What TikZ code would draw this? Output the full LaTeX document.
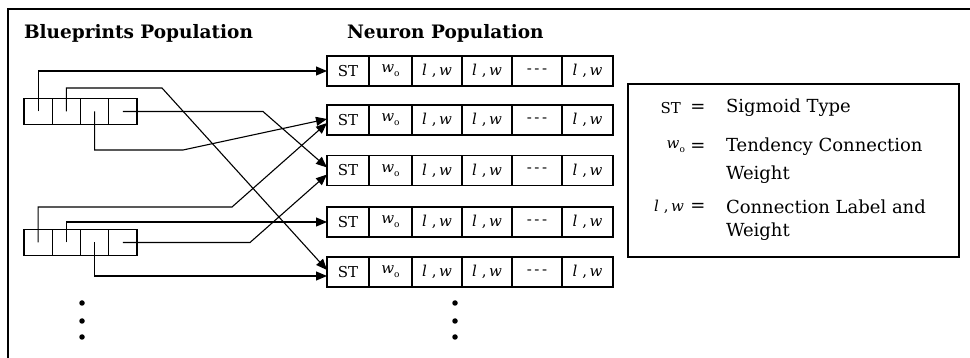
\documentclass[tikz,border=0pt]{standalone}
\usepackage{fontspec}
\setmainfont{DejaVu Serif}
\usetikzlibrary{arrows.meta}
\begin{document}
\begin{tikzpicture}[x=1pt,y=-1pt,
  every node/.style={inner sep=0pt, outer sep=0pt},
  frame/.style={line width=1.6pt},
  bcell/.style={draw, line width=1.2pt, minimum width=28.25pt, minimum height=26pt},
  ncell/.style={draw, line width=1.2pt, minimum height=30pt, font=\fontsize{15}{17}\selectfont},
  link/.style={line width=1.1pt, -{Triangle[length=11pt,width=9pt]}},
  title/.style={font=\bfseries\fontsize{18.5}{20}\selectfont, anchor=west},
  legend/.style={font=\fontsize{18}{20}\selectfont},
  sym/.style={font=\fontsize{15}{17}\selectfont, anchor=east},
  dot/.style={circle, fill, minimum size=5.5pt},
]
\newcommand{\wo}{\textit{w}\raisebox{-4pt}{\small o}}
\newcommand{\lw}{\textit{l}\,\,,\,\textit{w}}
\useasboundingbox (0,0) rectangle (970,358);

% outer frame (top and left edges)
\draw[frame] (8,358) -- (8,9) -- (970,9);

% titles
\node[title] (t1) at (24,33) {Blueprints Population};
\node[title] (t2) at (347,33) {Neuron Population};

% blueprints
\foreach \b/\y in {1/111.5, 2/242.5} {
  \foreach \k/\x in {1/38.1, 2/66.4, 3/94.6, 4/122.9} {
    \node[bcell] (b\b-\k) at (\x,\y) {};
  }
}

% neurons
\foreach \r/\y in {1/71, 2/120, 3/170.5, 4/222, 5/272} {
  \node[ncell, minimum width=42pt] (n\r-1) at (348,\y) {ST};
  \node[ncell, minimum width=43pt] (n\r-2) at (390.5,\y) {\wo};
  \node[ncell, minimum width=50pt] (n\r-3) at (437,\y) {\lw};
  \node[ncell, minimum width=50pt] (n\r-4) at (487,\y) {\lw};
  \node[ncell, minimum width=50pt] (n\r-5) at (537,\y) {-\,-\,-};
  \node[ncell, minimum width=51pt] (n\r-6) at (587.5,\y) {\lw};
}

% bend points of the connectors
\coordinate (k1) at (162,88);
\coordinate (k2) at (183,150);
\coordinate (k3) at (263,111.5);
\coordinate (k4) at (232,207);
\coordinate (k5) at (250,242.5);

% connectors from the first blueprint
\draw[link] (b1-1.center) |- (n1-1.west);
\draw[link] (b1-2.center) |- (k1) -- ([yshift=2pt]n5-1.west);
\draw[link] (b1-3.center) |- (k2) -- ([yshift=1pt]n2-1.west);
\draw[link] (b1-4.center) -- (k3) -- ([yshift=3pt]n3-1.west);

% connectors from the second blueprint
\draw[link] (b2-1.center) |- (k4) -- ([yshift=-3pt]n2-1.west);
\draw[link] (b2-2.center) |- (n4-1.west);
\draw[link] (b2-3.center) |- ([yshift=-4pt]n5-1.west);
\draw[link] (b2-4.center) -- (k5) -- ([yshift=-4pt]n3-1.west);

% continuation dots
\foreach \i/\y in {1/303, 2/321, 3/337} {
  \node[dot] (bd\i) at (82,\y) {};
  \node[dot] (nd\i) at (455,\y) {};
}

% legend
\node[draw, line width=1.2pt, minimum width=331pt, minimum height=173pt] (lg) at (793.5,170.5) {};
\node[sym] (s1) at (681,108) {ST};
\node[legend] (e1) at (698,108) {=};
\node[legend, anchor=west] (d1) at (726,108) {Sigmoid Type};
\node[sym] (s2) at (685,147) {\wo};
\node[legend] (e2) at (698,147) {=};
\node[legend, anchor=west] (d2) at (726,147) {Tendency Connection};
\node[legend, anchor=west] (d2b) at (726,175) {Weight};
\node[sym] (s3) at (684,207) {\lw};
\node[legend] (e3) at (698,207) {=};
\node[legend, anchor=west] (d3) at (726,207) {Connection Label and};
\node[legend, anchor=west] (d3b) at (726,232) {Weight};
\end{tikzpicture}
\end{document}
